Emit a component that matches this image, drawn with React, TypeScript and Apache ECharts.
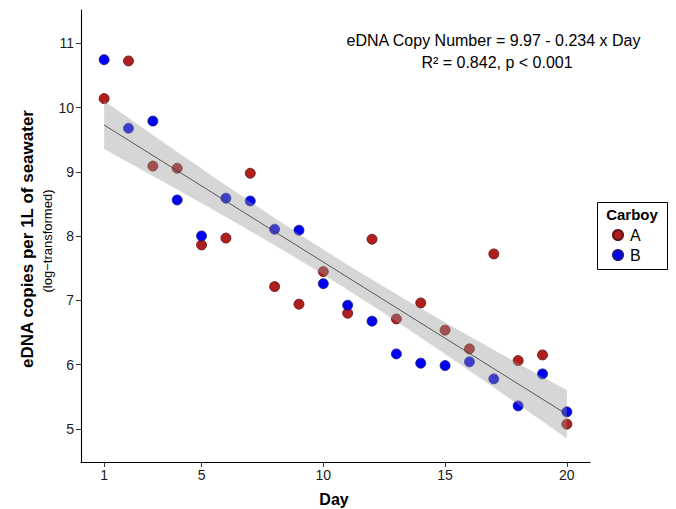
import React, { useEffect, useRef } from "react";
import * as echarts from "echarts";

const DAYS = [1, 2, 3, 4, 5, 6, 7, 8, 9, 10, 11, 12, 13, 14, 15, 16, 17, 18, 19, 20];
const CARBOY_A = [10.14, 10.725, 9.09, 9.056, 7.863, 7.97, 8.978, 7.215, 6.941, 7.448, 6.801, 7.952, 6.712, 6.961, 6.537, 6.246, 7.723, 6.064, 6.152, 5.075];
const CARBOY_B = [10.745, 9.678, 9.79, 8.563, 8.003, 8.59, 8.547, 8.107, 8.092, 7.261, 6.925, 6.677, 6.168, 6.023, 5.986, 6.044, 5.779, 5.359, 5.857, 5.266];
const X_TICKS = [1, 5, 10, 15, 20];
const Y_TICKS = [5, 6, 7, 8, 9, 10, 11];
const EQUATION = "eDNA Copy Number = 9.97 - 0.234 x Day";
const STATS = "R² = 0.842, p < 0.001";

const FONT = "Liberation Sans, Arial, Helvetica, sans-serif";

function fitModel() {
  const xs = [...DAYS, ...DAYS];
  const ys = [...CARBOY_A, ...CARBOY_B];
  const n = xs.length;
  const mx = xs.reduce((a, b) => a + b, 0) / n;
  const my = ys.reduce((a, b) => a + b, 0) / n;
  let sxx = 0;
  let sxy = 0;
  for (let i = 0; i < n; i++) {
    sxx += (xs[i] - mx) ** 2;
    sxy += (xs[i] - mx) * (ys[i] - my);
  }
  const slope = sxy / sxx;
  const intercept = my - slope * mx;
  let sse = 0;
  for (let i = 0; i < n; i++) sse += (ys[i] - intercept - slope * xs[i]) ** 2;
  const s = Math.sqrt(sse / (n - 2));
  const t = 2.0244;
  const xmin = Math.min(...xs);
  const xmax = Math.max(...xs);
  const upper: number[][] = [];
  const lower: number[][] = [];
  const steps = 80;
  for (let k = 0; k < steps; k++) {
    const x = xmin + ((xmax - xmin) * k) / (steps - 1);
    const f = intercept + slope * x;
    const se = s * Math.sqrt(1 / n + (x - mx) ** 2 / sxx);
    upper.push([x, f + t * se]);
    lower.push([x, f - t * se]);
  }
  return {
    line: [
      [xmin, intercept + slope * xmin],
      [xmax, intercept + slope * xmax],
    ],
    band: [...upper, ...lower.reverse()],
  };
}

export default function App() {
  const ref = useRef<HTMLDivElement>(null);
  useEffect(() => {
    if (!ref.current) return;
    const chart = echarts.init(ref.current, null, { renderer: "svg" });
    const model = fitModel();
    const option: any = {
      animation: false,
      backgroundColor: "#ffffff",
      textStyle: { fontFamily: FONT },
      grid: { left: 81, right: 86, top: 10, bottom: 47, containLabel: false },
      xAxis: {
        type: "value",
        min: 0.05,
        max: 20.95,
        splitLine: { show: false },
        axisLine: { show: true, onZero: false, lineStyle: { color: "#000", width: 1.1 } },
        axisTick: { show: true, length: 5, customValues: X_TICKS, lineStyle: { color: "#333" } },
        axisLabel: { customValues: X_TICKS, color: "#1a1a1a", fontSize: 14, margin: 6, fontFamily: FONT },
      },
      yAxis: {
        type: "value",
        min: 4.486,
        max: 11.518,
        splitLine: { show: false },
        axisLine: { show: true, onZero: false, lineStyle: { color: "#000", width: 1.1 } },
        axisTick: { show: true, length: 5, customValues: Y_TICKS, lineStyle: { color: "#333" } },
        axisLabel: { customValues: Y_TICKS, color: "#1a1a1a", fontSize: 14, margin: 7, fontFamily: FONT },
      },
      legend: {
        data: ["A", "B"],
        orient: "vertical",
        left: 607,
        top: 222,
        icon: "circle",
        itemWidth: 10,
        itemHeight: 10,
        itemGap: 4,
        selectedMode: false,
        textStyle: { fontSize: 16, color: "#000", fontFamily: FONT, padding: [0, 0, 0, 2] },
      },
      graphic: [
        {
          type: "rect",
          shape: { x: 597.5, y: 202.5, width: 70, height: 67 },
          style: { fill: "#fff", stroke: "#000", lineWidth: 1 },
          z: 0,
        },
        {
          type: "text",
          x: 632,
          y: 214,
          style: { text: "Carboy", font: `bold 15px ${FONT}`, fill: "#000", align: "center", verticalAlign: "middle" },
        },
        {
          type: "text",
          x: 493.5,
          y: 40,
          style: { text: EQUATION, font: `16px ${FONT}`, fill: "#000", align: "center", verticalAlign: "middle" },
        },
        {
          type: "text",
          x: 497,
          y: 62,
          style: { text: STATS, font: `16px ${FONT}`, fill: "#000", align: "center", verticalAlign: "middle" },
        },
        {
          type: "text",
          x: 27,
          y: 239,
          rotation: Math.PI / 2,
          style: { text: "eDNA copies per 1L of seawater", font: `bold 17px ${FONT}`, fill: "#000", align: "center", verticalAlign: "middle" },
        },
        {
          type: "text",
          x: 47,
          y: 241,
          rotation: Math.PI / 2,
          style: { text: "(log−transformed)", font: `13px ${FONT}`, fill: "#000", align: "center", verticalAlign: "middle" },
        },
        {
          type: "text",
          x: 334,
          y: 499,
          style: { text: "Day", font: `bold 16px ${FONT}`, fill: "#000", align: "center", verticalAlign: "middle" },
        },
      ],
      series: [
        {
          name: "A",
          type: "scatter",
          symbolSize: 10,
          z: 2,
          data: DAYS.map((d, i) => [d, CARBOY_A[i]]),
          itemStyle: { color: "#b01e1e", borderColor: "#5c1414", borderWidth: 0.8, opacity: 1 },
        },
        {
          name: "B",
          type: "scatter",
          symbolSize: 10,
          z: 2,
          data: DAYS.map((d, i) => [d, CARBOY_B[i]]),
          itemStyle: { color: "#0000f2", borderColor: "#1a1a80", borderWidth: 0.8, opacity: 1 },
        },
        {
          name: "band",
          type: "custom",
          z: 3,
          silent: true,
          data: [[0, 0]],
          renderItem: (_params: any, api: any) => ({
            type: "polygon",
            shape: { points: model.band.map((p) => api.coord(p)) },
            style: { fill: "rgba(153,153,153,0.4)", stroke: "none" },
          }),
        },
        {
          name: "fit",
          type: "line",
          z: 4,
          symbol: "none",
          silent: true,
          data: model.line,
          lineStyle: { color: "#3a3a3a", width: 0.8 },
        },
      ],
    };
    chart.setOption(option);
    return () => chart.dispose();
  }, []);
  return (
    <div
      ref={ref}
      style={{ position: "absolute", left: 0, top: 0, width: 676, height: 509 }}
    />
  );
}
